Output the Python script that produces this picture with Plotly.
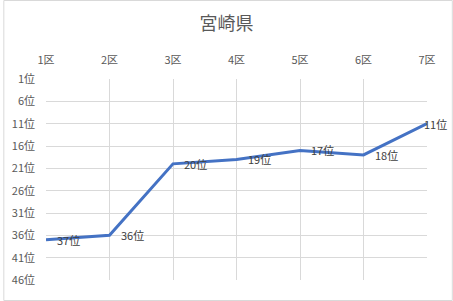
import plotly.graph_objects as go

categories = ["1区", "2区", "3区", "4区", "5区", "6区", "7区"]
ranks = [37, 36, 20, 19, 17, 18, 11]
label_suffix = "位"
y_ticks = [1, 6, 11, 16, 21, 26, 31, 36, 41, 46]
y_tick_labels = [f"{v}位" for v in y_ticks]

W, H = 453, 301
ML, MR, MT, MB = 43, 26, 79, 21
PW, PH = W - ML - MR, H - MT - MB
FONT = "Noto Sans CJK JP"

fig = go.Figure()
fig.add_trace(go.Scatter(
    x=list(range(len(categories))), y=ranks, mode="lines",
    line=dict(color="#4472C4", width=3), hoverinfo="skip",
))

for i, v in enumerate(ranks):
    last = i == len(ranks) - 1
    fig.add_annotation(
        x=i, y=v, text=f"{v}{label_suffix}", showarrow=False,
        xanchor="left", yanchor="middle", xshift=(-5 if last else 9),
        font=dict(family=FONT, size=11, color="#404040"),
    )

fig.update_layout(
    width=W, height=H,
    margin=dict(l=ML, r=MR, t=MT, b=MB),
    paper_bgcolor="white", plot_bgcolor="white",
    showlegend=False,
    title=dict(text="宮崎県", x=0.5, xref="container", xanchor="center",
               y=1 - 24 / H, yanchor="middle",
               font=dict(family=FONT, size=18, color="#595959")),
    font=dict(family=FONT, size=11, color="#595959"),
    xaxis=dict(
        side="top", range=[0, len(categories) - 1],
        tickmode="array", tickvals=list(range(len(categories))), ticktext=categories,
        showgrid=True, gridcolor="#d9d9d9", gridwidth=1,
        showline=False, zeroline=False, ticks="", ticklabelstandoff=12,
        tickfont=dict(family=FONT, size=11, color="#595959"),
    ),
    yaxis=dict(
        range=[46, 1], tickmode="array", tickvals=y_ticks, ticktext=y_tick_labels,
        showgrid=True, gridcolor="#d9d9d9", gridwidth=1,
        showline=False, zeroline=False, ticks="", ticklabelstandoff=10,
        tickfont=dict(family=FONT, size=11, color="#595959"),
    ),
    shapes=[dict(
        type="rect", xref="paper", yref="paper",
        x0=(0.5 - ML) / PW, x1=(W - 0.5 - ML) / PW,
        y0=-(MB - 0.5) / PH, y1=1 + (MT - 0.5) / PH,
        line=dict(color="#d9d9d9", width=1), fillcolor="rgba(0,0,0,0)", layer="below",
    )],
)

fig.write_html(
    "out.html",
    config={"displayModeBar": False},
    post_script="document.body.style.margin='0';document.body.style.overflow='hidden';",
)
